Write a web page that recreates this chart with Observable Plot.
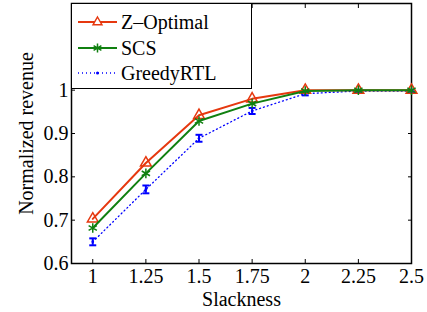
<!DOCTYPE html>
<html>
<head>
<meta charset="utf-8">
<script src="https://cdn.jsdelivr.net/npm/d3@7"></script>
<script src="https://cdn.jsdelivr.net/npm/@observablehq/plot@0.6"></script>
<style>
  html, body { margin: 0; padding: 0; background: #fff; }
  #wrap { position: relative; width: 427px; height: 312px; font-family: 'Liberation Serif'; }
  #wrap svg, #wrap svg text { font-family: 'Liberation Serif' !important; }
  #legend { position: absolute; left: 71px; top: 3px; width: 181px; height: 86px; background: #fff; border: 1.5px solid #000; box-sizing: border-box; }
  .row { position: absolute; left: 0; height: 22px; display: flex; align-items: center; }
  .row span { font-family: 'Liberation Serif'; font-size: 20px; color: #000; margin-left: 3px; line-height: 22px; }
</style>
</head>
<body>
<div id="wrap"></div>
<script>
const slackness = [1, 1.25, 1.5, 1.75, 2, 2.25, 2.5];
const zOptimal = [0.703, 0.832, 0.942, 0.980, 1.0, 1.0, 1.0];
const scs = [0.682, 0.808, 0.929, 0.969, 0.998, 1.0, 1.0];
const greedyRTL = [0.650, 0.771, 0.889, 0.952, 0.992, 0.998, 0.998];
const greedyErr = [0.008, 0.009, 0.008, 0.007, 0.004, 0.003, 0.003];
const xTicks = [1, 1.25, 1.5, 1.75, 2, 2.25, 2.5];
const yTicks = [0.6, 0.7, 0.8, 0.9, 1];
const seriesNames = ["Z\u2013Optimal", "SCS", "GreedyRTL"];
const colors = ["#e6380f", "#108010", "#0000ff"];

const zData = slackness.map((x, i) => ({x, y: zOptimal[i]}));
const sData = slackness.map((x, i) => ({x, y: scs[i]}));
const gData = slackness.map((x, i) => ({x, y: greedyRTL[i], lo: greedyRTL[i] - greedyErr[i], hi: greedyRTL[i] + greedyErr[i]}));

const capSymbol = {draw(ctx, size) { const r = Math.sqrt(size / Math.PI); ctx.moveTo(-r, 0); ctx.lineTo(r, 0); }};

const chart = Plot.plot({
  width: 427,
  height: 312,
  marginLeft: 71,
  marginRight: 16,
  marginTop: 3,
  marginBottom: 49,
  style: "font-family: 'Liberation Serif'; font-size: 20px; background: #fff; color: #000;",
  x: {domain: [0.9, 2.5]},
  y: {domain: [0.6, 1.2]},
  marks: [
    Plot.axisX({anchor: "bottom", ticks: xTicks, tickSize: -4, tickPadding: 9, tickFormat: d => String(d), label: "Slackness", labelAnchor: "center", labelOffset: 42, labelArrow: "none", fontSize: 20}),
    Plot.axisX({anchor: "top", ticks: xTicks, tickSize: -4, tickFormat: () => "", label: null}),
    Plot.axisY({anchor: "left", ticks: yTicks, tickSize: -4, tickPadding: 7, tickFormat: d => String(d), label: "Normalized revenue", labelAnchor: "center", labelOffset: 53, labelArrow: "none", fontSize: 20}),
    Plot.axisY({anchor: "right", ticks: yTicks, tickSize: -4, tickFormat: () => "", label: null}),
    Plot.frame({stroke: "#000", strokeWidth: 1.5}),
    Plot.line(gData, {x: "x", y: "y", stroke: colors[2], strokeWidth: 1.3, strokeDasharray: "1,3"}),
    Plot.ruleX(gData, {x: "x", y1: "lo", y2: "hi", stroke: colors[2], strokeWidth: 2}),
    Plot.dot(gData, {x: "x", y: "lo", symbol: capSymbol, r: 3.5, stroke: colors[2], strokeWidth: 2}),
    Plot.dot(gData, {x: "x", y: "hi", symbol: capSymbol, r: 3.5, stroke: colors[2], strokeWidth: 2}),
    Plot.dot(gData, {x: "x", y: "y", r: 1.3, fill: colors[2], stroke: null}),
    Plot.line(zData, {x: "x", y: "y", stroke: colors[0], strokeWidth: 2}),
    Plot.dot(zData, {x: "x", y: "y", symbol: "triangle", r: 4, stroke: colors[0], strokeWidth: 1.5, fill: "none"}),
    Plot.line(sData, {x: "x", y: "y", stroke: colors[1], strokeWidth: 2}),
    Plot.dot(sData, {x: "x", y: "y", symbol: "asterisk", r: 4.5, stroke: colors[1], strokeWidth: 1.5})
  ]
});

const wrap = document.getElementById("wrap");
wrap.appendChild(chart);

const legend = document.createElement("div");
legend.id = "legend";
const rowTops = [7, 33, 58];
const samples = [
  `<line x1="0" y1="11" x2="39" y2="11" stroke="${colors[0]}" stroke-width="2"/><path d="M19.5,6 L24,13.8 L15,13.8 Z" fill="#fff" stroke="${colors[0]}" stroke-width="1.4"/>`,
  `<line x1="0" y1="11" x2="39" y2="11" stroke="${colors[1]}" stroke-width="2"/><path d="M19.5,6.5 V15.5 M15.6,8.7 L23.4,13.3 M15.6,13.3 L23.4,8.7" stroke="${colors[1]}" stroke-width="1.5"/>`,
  `<line x1="0" y1="11" x2="39" y2="11" stroke="${colors[2]}" stroke-width="1.3" stroke-dasharray="1,3"/><circle cx="19.5" cy="11" r="1.5" fill="${colors[2]}"/>`
];
seriesNames.forEach((name, i) => {
  const row = document.createElement("div");
  row.className = "row";
  row.style.top = rowTops[i] + "px";
  row.style.left = "6px";
  row.innerHTML = `<svg width="40" height="22">${samples[i]}</svg><span>${name}</span>`;
  legend.appendChild(row);
});
wrap.appendChild(legend);
</script>
</body>
</html>
